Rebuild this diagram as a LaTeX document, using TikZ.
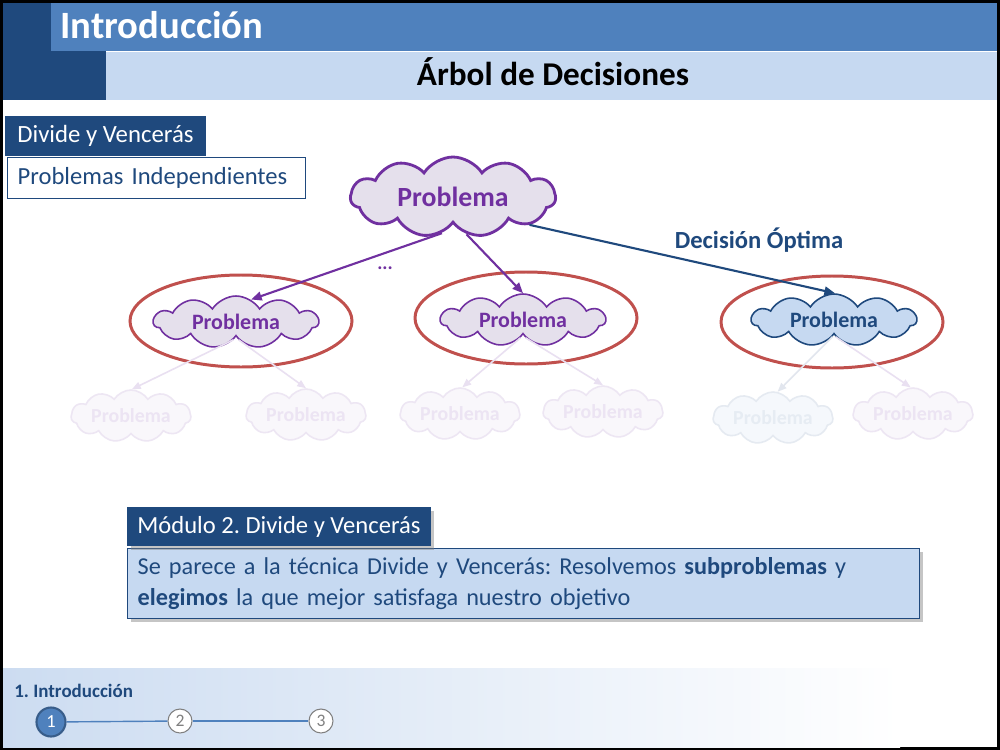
\documentclass[tikz,border=0pt]{standalone}
\usepackage{fontspec}
\setmainfont{Carlito}
\usetikzlibrary{shapes.symbols,arrows.meta,shadows}
\definecolor{dblue}{HTML}{1F497D}
\definecolor{mblue}{HTML}{4F81BD}
\definecolor{lblue}{HTML}{C6D9F1}
\definecolor{footl}{HTML}{CCDCF1}
\definecolor{redc}{HTML}{C0504D}
\definecolor{purp}{HTML}{7030A0}
\definecolor{lpurp}{HTML}{E5E0EC}
\definecolor{fpfill}{HTML}{F9F7FB}
\definecolor{fpdraw}{HTML}{EDE6F3}
\definecolor{fptext}{HTML}{ECE4F3}
\definecolor{fbfill}{HTML}{F5F8FC}
\definecolor{fbdraw}{HTML}{E5EAF1}
\definecolor{fbtext}{HTML}{E6ECF3}
\definecolor{fparrow}{HTML}{E9E0F1}
\definecolor{fbarrow}{HTML}{E2E6EE}
\frenchspacing
\tikzset{
  cloudbase/.style={cloud, cloud puffs=11, cloud puff arc=115, cloud ignores aspect, inner sep=0pt, font=\bfseries},
  bigcloud/.style={cloudbase, minimum width=4.1cm, minimum height=1.6cm, draw=purp, line width=1.6pt, fill=lpurp, text=purp, font=\bfseries\fontsize{15.8}{18}\selectfont},
  midcloud/.style={cloudbase, minimum width=3.3cm, minimum height=1.04cm, draw=purp, line width=0.9pt, fill=lpurp, text=purp, font=\bfseries\fontsize{12.5}{15}\selectfont},
  bluecloud/.style={midcloud, draw=dblue, fill=lblue, text=dblue},
  fadecloud/.style={cloudbase, minimum width=2.4cm, minimum height=1.04cm, draw=fpdraw, line width=0.9pt, fill=fpfill, text=fptext, font=\bfseries\fontsize{11.3}{13}\selectfont},
  fadebcloud/.style={fadecloud, draw=fbdraw, fill=fbfill, text=fbtext},
  mainarrow/.style={line width=1.2pt, -{Triangle[length=6pt,width=5pt]}},
  fadearrow/.style={line width=0.9pt, draw=fparrow, -{Triangle[length=5pt,width=4pt]}},
  redell/.style={draw=redc, line width=1.7pt},
  headbox/.style={fill=dblue, text=white, anchor=north west, inner xsep=0.2cm, inner ysep=0pt},
  stepcirc/.style={circle, draw=gray, fill=white, line width=0.6pt, minimum size=0.48cm, inner sep=0pt, text=gray, font=\fontsize{10}{12}\selectfont},
}
\begin{document}
\begin{tikzpicture}[x=0.02cm,y=-0.02cm]
\useasboundingbox (0,0) rectangle (1000,750);
\fill[black] (0,0) rectangle (1000,750);
\fill[white] (3,3) rectangle (997,747);
% footer band
\shade[left color=footl, right color=white] (3,668) rectangle (900,747);
% header
\fill[dblue] (3,3) rectangle (106,100);
\fill[mblue] (51,3) rectangle (997,51);
\fill[lblue] (106,52) rectangle (997,100);
\node[anchor=base west, text=white, font=\bfseries\fontsize{22}{26}\selectfont, inner sep=0pt] (title) at (60,39) {Introducción};
\node[anchor=base, font=\bfseries\fontsize{18.9}{22}\selectfont, inner sep=0pt] (sub) at (553,86) {Árbol de Decisiones};

% top-left boxes
\node[headbox, inner xsep=0.24cm, minimum height=0.8cm, font=\fontsize{14.1}{16}\selectfont] (dyv) at (5,116) {Divide y Vencerás};
\node[draw=dblue, line width=0.8pt, fill=white, anchor=north west, text=dblue, text width=5.56cm, align=left, inner xsep=0.2cm, minimum height=0.82cm, font=\fontsize{14}{16}\selectfont] (pi) at (7,157) {Problemas Independientes};

% red ellipses
\draw[redell] (241,321) ellipse [x radius=111, y radius=46];
\draw[redell] (526,318) ellipse [x radius=111, y radius=46];
\draw[redell] (832,322) ellipse [x radius=111, y radius=46];

% clouds
\node[bigcloud] (P0) at (453,197) {Problema};
\node[midcloud] (P1) at (236,322) {Problema};
\node[midcloud] (P2) at (523,320) {Problema};
\node[bluecloud] (P3) at (834,320) {Problema};

\node[fadecloud] (Q1) at (131,416) {Problema};
\node[fadecloud] (Q2) at (306,415) {Problema};
\node[fadecloud] (Q3) at (460,414) {Problema};
\node[fadecloud] (Q4) at (603,412) {Problema};
\node[fadebcloud] (Q5) at (773,418) {Problema};
\node[fadecloud] (Q6) at (913,414) {Problema};

% arrows
\draw[mainarrow, purp] (P0.253) -- (P1.56);
\draw[mainarrow, purp] (P0.290) -- (P2.90);
\draw[mainarrow, dblue] (P0.340) -- (P3.88);
\node[text=purp, font=\bfseries\fontsize{11}{13}\selectfont] (dots) at (385,268) {...};
\node[text=dblue, font=\bfseries\fontsize{14}{17}\selectfont] (dopt) at (759,240) {Decisión Óptima};

\draw[fadearrow] (P1.262) -- (Q1.88);
\draw[fadearrow] (P1.278) -- (Q2.90);
\draw[fadearrow] (P2.262) -- (Q3.85);
\draw[fadearrow] (P2.278) -- (Q4.90);
\draw[fadearrow, draw=fbarrow] (P3.265) -- (Q5.80);
\draw[fadearrow] (P3.275) -- (Q6.95);

% bottom boxes
\node[draw=dblue, line width=0.8pt, fill=lblue, text=dblue, anchor=north west, text width=15.44cm, align=left, inner xsep=0.2cm, minimum height=1.4cm, font=\fontsize{13.8}{18}\selectfont, drop shadow={shadow xshift=2pt, shadow yshift=-2pt, opacity=0.45}] (body) at (127,548) {Se parece a la técnica Divide y Vencerás: Resolvemos \textbf{subproblemas} y\\\textbf{elegimos} la que mejor satisfaga nuestro objetivo};
\node[headbox, minimum height=0.78cm, font=\fontsize{14}{16}\selectfont, drop shadow={shadow xshift=2pt, shadow yshift=-2pt, opacity=0.45}] (mod) at (127,507) {Módulo 2. Divide y Vencerás};

% footer
\node[anchor=base west, text=dblue, font=\bfseries\fontsize{10.8}{13}\selectfont, inner sep=0pt] (ftitle) at (14,697) {1. Introducción};
\node[circle, draw={rgb,255:red,56;green,93;blue,138}, line width=1.2pt, fill=mblue, minimum size=0.58cm, inner sep=0pt, text=white, font=\fontsize{10.5}{12}\selectfont] (s1) at (51,722) {1};
\node[stepcirc] (s2) at (180,721) {2};
\node[stepcirc] (s3) at (321,721) {3};
\draw[mblue, line width=0.8pt] (s1) -- (s2);
\draw[mblue, line width=0.8pt] (s2) -- (s3);
\end{tikzpicture}
\end{document}
